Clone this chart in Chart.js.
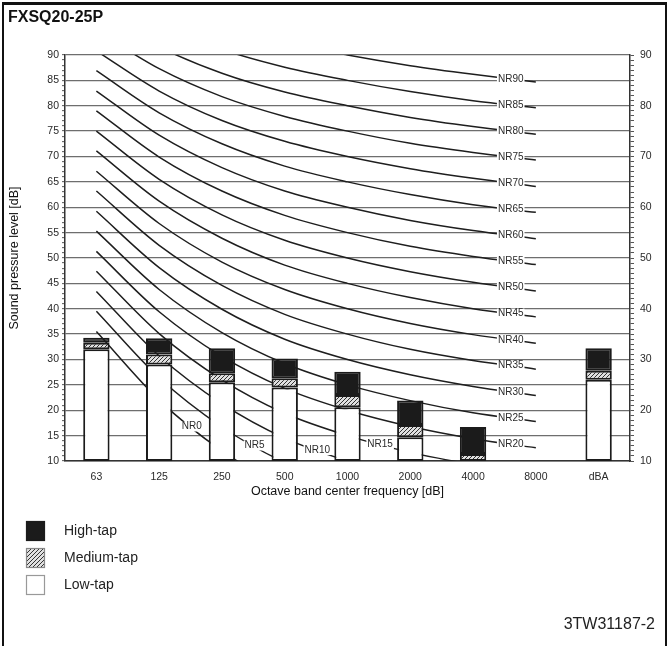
<!DOCTYPE html>
<html>
<head>
<meta charset="utf-8">
<script src="https://cdn.jsdelivr.net/npm/chart.js@4"></script>
<style>
  html, body { margin: 0; padding: 0; background: #fff; }
  #wrap { position: relative; width: 669px; height: 646px; }
</style>
</head>
<body>
<div id="wrap"><canvas id="nrChart" width="669" height="646"></canvas></div>
<script>
// --- Data ---
const bands = ["63", "125", "250", "500", "1000", "2000", "4000", "8000", "dBA"];

// top of each stacked segment in dB (bars start at 10 dB), null = no bar
const lowTop  = [32.0, 29.0, 25.5, 24.5, 20.6, 14.7, 10.0, null, 26.0];
const midTop  = [33.3, 31.0, 27.3, 26.3, 23.0, 17.1, 11.4, null, 27.8];
const highTop = [34.3, 34.2, 32.2, 30.2, 27.6, 21.9, 16.7, null, 32.2];

// NR curves, levels at 63 ... 8000 Hz
const nrNames = ["NR0", "NR5", "NR10", "NR15", "NR20", "NR25", "NR30", "NR35", "NR40",
                 "NR45", "NR50", "NR55", "NR60", "NR65", "NR70", "NR75", "NR80", "NR85", "NR90"];
const nrCurves = [
  [35.5, 22.0, 12.0, 4.8, 0, -3.5, -6.1, -8.0],
  [39.5, 26.4, 16.7, 9.7, 5, 1.6, -1.0, -2.9],
  [43.4, 30.7, 21.3, 14.5, 10, 6.7, 4.2, 2.3],
  [47.4, 35.1, 26.0, 19.4, 15, 11.7, 9.3, 7.5],
  [51.3, 39.4, 30.6, 24.3, 20, 16.8, 14.4, 12.6],
  [55.3, 43.8, 35.3, 29.2, 25, 21.9, 19.5, 17.8],
  [59.2, 48.1, 39.9, 34.0, 30, 27.0, 24.7, 22.9],
  [63.2, 52.5, 44.6, 38.9, 35, 32.0, 29.8, 28.1],
  [67.1, 56.8, 49.2, 43.8, 40, 37.1, 34.9, 33.2],
  [71.1, 61.2, 53.9, 48.6, 45, 42.2, 40.0, 38.4],
  [75.0, 65.5, 58.5, 53.5, 50, 47.3, 45.2, 43.5],
  [79.0, 69.9, 63.2, 58.4, 55, 52.3, 50.3, 48.7],
  [82.9, 74.2, 67.8, 63.2, 60, 57.4, 55.4, 53.8],
  [86.9, 78.6, 72.5, 68.1, 65, 62.5, 60.5, 59.0],
  [90.8, 82.9, 77.1, 73.0, 70, 67.6, 65.7, 64.1],
  [94.8, 87.3, 81.8, 77.9, 75, 72.6, 70.8, 69.3],
  [98.7, 91.6, 86.4, 82.7, 80, 77.7, 75.9, 74.4],
  [102.7, 96.0, 91.1, 87.6, 85, 82.8, 81.0, 79.6],
  [106.6, 100.3, 95.7, 92.5, 90, 87.9, 86.2, 84.7]
];

const FONT = "'Liberation Sans', Arial, sans-serif";
const ctx = document.getElementById("nrChart").getContext("2d");

// --- hatch pattern for medium-tap ---
function makeHatch() {
  const c = document.createElement("canvas");
  c.width = 4; c.height = 4;
  const g = c.getContext("2d");
  g.fillStyle = "#e0e0e0";
  g.fillRect(0, 0, 4, 4);
  g.strokeStyle = "#333";
  g.lineWidth = 1;
  g.beginPath();
  g.moveTo(0, 4); g.lineTo(4, 0);
  g.moveTo(-1, 1); g.lineTo(1, -1);
  g.moveTo(3, 5); g.lineTo(5, 3);
  g.stroke();
  return ctx.createPattern(c, "repeat");
}
const hatch = makeHatch();

// floating bars built from the segment tops
const floor = 10;
const lowBars  = lowTop.map(v => v == null ? null : [floor, v]);
const midBars  = midTop.map((v, i) => v == null ? null : [lowTop[i], v]);
const highBars = highTop.map((v, i) => v == null ? null : [midTop[i], v]);

const barStyle = {
  type: "bar",
  borderColor: "#1b1b1b",
  borderWidth: 2,
  borderSkipped: false,
  barPercentage: 0.42,
  categoryPercentage: 1,
  order: 0
};

const nrDatasets = nrCurves.map((row, i) => ({
  type: "line",
  label: nrNames[i],
  data: row,
  borderColor: "#1e1e1e",
  borderWidth: 1.5,
  pointRadius: 0,
  fill: false,
  cubicInterpolationMode: "monotone",
  clip: 0,
  order: 1
}));

// --- extra drawing: frame, title, NR labels, legend, code ---
const decor = {
  id: "decor",
  afterDatasetsDraw(chart) {
    const c = chart.ctx;
    const x = chart.scales.x, y = chart.scales.y;
    c.save();
    c.font = "10px " + FONT;
    c.textAlign = "center";
    c.textBaseline = "middle";
    nrCurves.forEach((row, i) => {
      const nr = parseInt(nrNames[i].slice(2), 10);
      const seg = nr < 20 ? nr / 5 + 1 : 6;
      const f = nr < 20 ? 0.52 : 0.6;
      const px = x.getPixelForValue(seg) + f * (x.getPixelForValue(seg + 1) - x.getPixelForValue(seg));
      const v = row[seg] + f * (row[seg + 1] - row[seg]);
      const py = y.getPixelForValue(v);
      const w = c.measureText(nrNames[i]).width;
      c.fillStyle = "#fff";
      c.fillRect(px - w / 2 - 1, py - 5, w + 2, 10);
      c.fillStyle = "#2a2a2a";
      c.fillText(nrNames[i], px, py);
    });
    c.restore();
  },
  afterDraw(chart) {
    const c = chart.ctx;
    c.save();
    // frame
    c.fillStyle = "#111";
    c.fillRect(2, 2, 665, 3);
    c.fillRect(2, 2, 2, 644);
    c.fillRect(665, 2, 2, 644);
    // title
    c.fillStyle = "#111";
    c.font = "bold 16px " + FONT;
    c.textAlign = "left";
    c.textBaseline = "middle";
    c.fillText("FXSQ20-25P", 8, 18);
    // legend
    const items = [
      { label: "High-tap", fill: "#1b1b1b", stroke: "#1b1b1b" },
      { label: "Medium-tap", fill: hatch, stroke: "#888" },
      { label: "Low-tap", fill: "#fff", stroke: "#999" }
    ];
    c.font = "14px " + FONT;
    items.forEach((it, i) => {
      const cy = 531 + i * 27;
      c.fillStyle = it.fill;
      c.fillRect(26, cy - 10, 19, 20);
      c.strokeStyle = it.stroke;
      c.lineWidth = 1.2;
      c.strokeRect(26.5, cy - 9.5, 18, 19);
      c.fillStyle = "#222";
      c.fillText(it.label, 64, cy);
    });
    // drawing code
    c.font = "16px " + FONT;
    c.textAlign = "right";
    c.fillText("3TW31187-2", 655, 625);
    c.restore();
  }
};

const tickFont = { family: FONT, size: 10.5 };

new Chart(ctx, {
  data: {
    labels: bands,
    datasets: [
      Object.assign({ label: "High-tap", data: highBars, backgroundColor: "#1b1b1b" }, barStyle),
      Object.assign({ label: "Medium-tap", data: midBars, backgroundColor: hatch }, barStyle),
      Object.assign({ label: "Low-tap", data: lowBars, backgroundColor: "#ffffff" }, barStyle),
      ...nrDatasets
    ]
  },
  options: {
    responsive: false,
    animation: false,
    devicePixelRatio: 1,
    layout: { padding: { left: 0, right: 0, top: 55, bottom: 145 } },
    elements: { line: { capBezierPoints: false } },
    plugins: {
      legend: { display: false },
      tooltip: { enabled: false }
    },
    scales: {
      x: {
        stacked: true,
        offset: true,
        afterFit: s => { s.height = 40; },
        grid: { drawOnChartArea: false, drawTicks: false },
        border: { color: "#333", width: 1.5 },
        ticks: { font: tickFont, color: "#2a2a2a", padding: 10 },
        title: {
          display: true,
          text: "Octave band center frequency [dB]",
          font: { family: FONT, size: 12.5 },
          color: "#111",
          padding: { top: 0, bottom: 2 }
        }
      },
      y: {
        min: 10,
        max: 90,
        afterFit: s => { s.width = 65; },
        ticks: {
          stepSize: 1,
          autoSkip: false,
          font: tickFont,
          color: "#2a2a2a",
          padding: 3,
          callback: v => (v % 5 === 0 ? v : "")
        },
        grid: {
          color: c => (c.tick.value % 5 === 0 ? "#6e6e6e" : "rgba(0,0,0,0)"),
          lineWidth: 1.3,
          tickLength: 3,
          tickColor: "#555",
          tickWidth: 1
        },
        border: { color: "#333", width: 1.5 },
        title: {
          display: true,
          text: "Sound pressure level [dB]",
          font: { family: FONT, size: 12.5 },
          color: "#111",
          padding: { top: 7, bottom: 0 }
        }
      },
      y2: {
        position: "right",
        min: 10,
        max: 90,
        afterFit: s => { s.width = 39; },
        ticks: {
          stepSize: 1,
          autoSkip: false,
          font: tickFont,
          color: "#2a2a2a",
          padding: 6,
          callback: v => (v % 10 === 0 ? v : "")
        },
        grid: {
          drawOnChartArea: false,
          tickLength: 4,
          tickColor: "#555",
          tickWidth: 1
        },
        border: { color: "#333", width: 1.5 }
      }
    }
  },
  plugins: [decor]
});
</script>
</body>
</html>
